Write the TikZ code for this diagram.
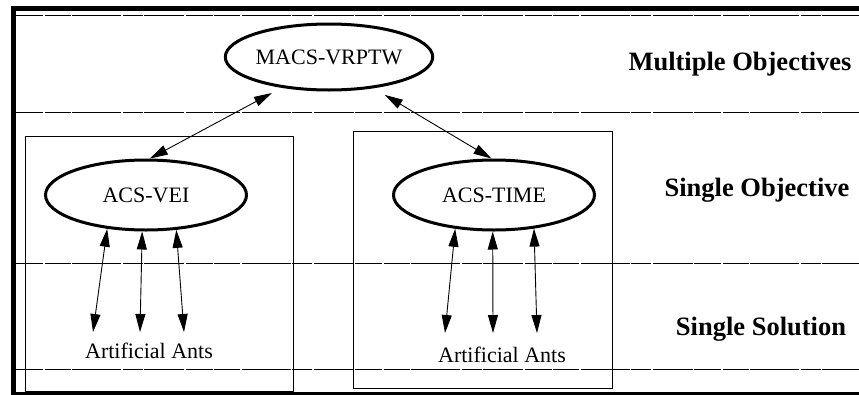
\documentclass[tikz,border=0pt]{standalone}
\usepackage{fontspec}
\setmainfont{Liberation Serif}
\usetikzlibrary{shapes.geometric,arrows.meta}
\begin{document}
\begin{tikzpicture}[x=1pt,y=-1pt,
    nivel/.style={line width=1pt,dash pattern=on 27pt off 1.5pt on 26pt off 1.5pt on 49pt off 1.5pt on 20pt off 1.5pt on 40pt off 1.5pt},
    caja/.style={line width=1pt},
    elipse/.style={ellipse,draw,line width=3pt,minimum width=201pt,minimum height=70pt,
        inner sep=0pt,font=\fontsize{22}{24}\selectfont},
    titulo/.style={anchor=base,font=\fontsize{26.5}{28}\selectfont\bfseries},
    hormigas/.style={anchor=base,font=\fontsize{22}{24}\selectfont},
    flecha/.style={line width=0.9pt,{Triangle[length=18pt,width=10pt]}-{Triangle[length=18pt,width=10pt]}}]
    \useasboundingbox (0,0) rectangle (859,394);
    \draw[line width=5pt] (13.5,396) -- (13.5,8.5) -- (862,8.5); % marco
    \draw[line width=5pt] (13.5,394) -- (862,394);
    \foreach \y in {15,112,263,369}
    \draw[nivel] (16,\y) -- (859,\y); % niveles
    \draw[caja] (25,136) rectangle (293,391);
    \draw[caja] (353,131) rectangle (612,388);
    \node[elipse,minimum width=203pt,minimum height=66pt] (macs) at (329,57) {MACS-VRPTW};
    \node[elipse] (vei) at (146,195) {ACS-VEI};
    \node[elipse] (time) at (494,195) {ACS-TIME};
    \node[titulo] (multi) at (740,70) {Multiple Objectives};
    \node[titulo] (single) at (757,196) {Single Objective};
    \node[titulo] (sol) at (761,335) {Single Solution};
    \node[hormigas] (ants1) at (149,358) {Artificial Ants};
    \node[hormigas] (ants2) at (502,362) {Artificial Ants};
    \coordinate (v1) at (93,332);
    \coordinate (v2) at (140,332);
    \coordinate (v3) at (184,332);
    \coordinate (t1) at (445,333);
    \coordinate (t2) at (493,333);
    \coordinate (t3) at (537,333);
    \draw[flecha,shorten <=11pt] (macs.-147) -- (vei.84);
    \draw[flecha,shorten <=13pt] (macs.-35) -- (time.94);
    \draw[flecha] (vei.-139) -- (v1);
    \draw[flecha] (vei.-96) -- (v2);
    \draw[flecha] (vei.-49) -- (v3);
    \draw[flecha] (time.-139) -- (t1);
    \draw[flecha] (time.-92) -- (t2);
    \draw[flecha] (time.-40) -- (t3);
\end{tikzpicture}
\end{document}
